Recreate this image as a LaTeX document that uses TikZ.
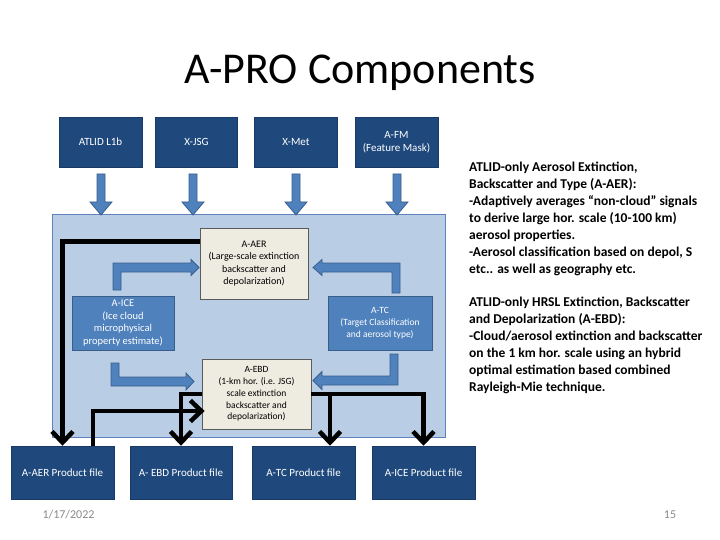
\documentclass[tikz,border=0pt]{standalone}
\usepackage{fontspec}
\setmainfont{Carlito}
\usetikzlibrary{arrows.meta}
\definecolor{darkbox}{RGB}{31,73,125}
\definecolor{panelc}{RGB}{185,205,229}
\definecolor{panelb}{RGB}{95,130,190}
\definecolor{medblue}{RGB}{79,129,189}
\definecolor{bordblue}{RGB}{56,93,138}
\definecolor{creamc}{RGB}{238,236,225}
\definecolor{creamb}{RGB}{90,90,90}
\definecolor{dategray}{RGB}{137,137,137}
\tikzset{
  darkbox/.style={rectangle, fill=darkbox, draw=darkbox!80!black, line width=0.5pt, text=white, align=center, inner sep=0pt, font=\fontsize{11}{13}\selectfont},
  medbox/.style={rectangle, fill=medblue, draw=bordblue, line width=0.5pt, text=white, align=center, inner sep=0pt, font=\fontsize{10.5}{12.7}\selectfont},
  creambox/.style={rectangle, fill=creamc, draw=creamb, line width=0.75pt, text=black, align=center, inner sep=0pt, font=\fontsize{10}{12.5}\selectfont},
  barrow/.style={fill=medblue, draw=bordblue, line width=0.75pt, line join=miter},
  blk/.style={line width=4.5pt, black, -{Straight Barb[length=11pt,width=21pt]}},
  sidetext/.style={anchor=north west, align=left, inner sep=0pt, font=\fontsize{13.5}{17}\selectfont\bfseries}
}
\begin{document}
\begin{tikzpicture}[x=1pt,y=-1pt]
\useasboundingbox (0,0) rectangle (720,540);
% title
\node[anchor=base, font=\fontsize{44}{50}\selectfont] (title) at (360,84) {A-PRO Components};
% top boxes
\node[darkbox, minimum width=83pt, minimum height=50pt] (atlid) at (100.5,142) {ATLID L1b};
\node[darkbox, minimum width=82pt, minimum height=50pt] (jsg) at (196.5,142) {X-JSG};
\node[darkbox, minimum width=83pt, minimum height=50pt] (met) at (296,142) {X-Met};
\node[darkbox, minimum width=83pt, minimum height=50pt] (afm) at (396.5,142) {A-FM\\(Feature Mask)};
% panel
\node[rectangle, fill=panelc, draw=panelb, line width=0.75pt, minimum width=393pt, minimum height=223pt, inner sep=0pt] (panel) at (248.5,325.5) {};
% top block arrows
\foreach \c in {101,193,296,397}{
  \draw[barrow] (\c-4,174) -- (\c+4,174) -- (\c+4,202) -- (\c+11,202) -- (\c,215) -- (\c-11,202) -- (\c-4,202) -- cycle;
}
% inner boxes
\node[creambox, minimum width=108pt, minimum height=71pt] (aer) at (254,263.5) {A-AER\\(Large-scale extinction\\backscatter and\\depolarization)};
\node[medbox, minimum width=102pt, minimum height=54pt] (ice) at (123,323) {A-ICE\\(Ice cloud\\microphysical\\property estimate)};
\node[medbox, minimum width=104pt, minimum height=54pt, font=\fontsize{9.5}{12}\selectfont] (tc) at (380,323) {A-TC\\(Target Classification\\and aerosol type)};
\node[creambox, minimum width=109pt, minimum height=70pt, font=\fontsize{9.5}{11.8}\selectfont] (ebd) at (256.5,394) {A-EBD\\(1-km hor. (i.e. JSG)\\scale extinction\\backscatter and\\depolarization)};
% inner block arrows
\draw[barrow] (113,290) -- (113,263) -- (191,263) -- (191,259.5) -- (199,267.5) -- (191,275.5) -- (191,272) -- (121,272) -- (121,290) -- cycle;
\draw[barrow] (400,293) -- (400,263) -- (322,263) -- (322,259.5) -- (313,267.5) -- (322,275.5) -- (322,272) -- (392,272) -- (392,293) -- cycle;
\draw[barrow] (111,363) -- (111,386) -- (186,386) -- (186,390) -- (194,381.5) -- (186,373) -- (186,377) -- (119,377) -- (119,363) -- cycle;
\draw[barrow] (398,354) -- (398,385) -- (322,385) -- (322,389.5) -- (313,380.5) -- (322,371.5) -- (322,376) -- (390,376) -- (390,354) -- cycle;
% product boxes
\node[darkbox, minimum width=103pt, minimum height=53pt] (aerp) at (62.5,472.5) {A-AER Product file};
\node[darkbox, minimum width=102pt, minimum height=53pt] (ebdp) at (181,472.5) {A- EBD Product file};
\node[darkbox, minimum width=103pt, minimum height=53pt] (tcp) at (303.5,472.5) {A-TC Product file};
\node[darkbox, minimum width=103pt, minimum height=53pt] (icep) at (423.5,472.5) {A-ICE Product file};
% black connectors
\draw[blk] ([yshift=-14pt]aer.north west) -| (aerp.north);
\draw[blk] ([xshift=30.5pt]aerp.north) |- ([xshift=3pt,yshift=-17pt]ebd.west);
\draw[blk] (ebd.west) -| (ebdp.north);
\draw[blk] (ebd.east) -| (icep.north);
\coordinate (br) at (330,394);
\draw[blk] (br) -- (br |- tcp.north);
% side text
\node[sidetext] (t1) at (469,162) {ATLID-only Aerosol Extinction,\\Backscatter and Type (A-AER):\\-Adaptively averages “non-cloud” signals\\to derive large hor. scale (10-100 km)\\aerosol properties.\\-Aerosol classification based on depol, S\\etc.. as well as geography etc.};
\node[sidetext] (t2) at (469,297) {ATLID-only HRSL Extinction, Backscatter\\and Depolarization (A-EBD):\\-Cloud/aerosol extinction and backscatter\\on the 1 km hor. scale using an hybrid\\optimal estimation based combined\\Rayleigh-Mie technique.};
% footer
\node[text=dategray, font=\fontsize{12}{14}\selectfont] (date) at (68.5,515) {1/17/2022};
\node[text=dategray, font=\fontsize{12}{14}\selectfont] (pg) at (670,515) {15};
\end{tikzpicture}
\end{document}
